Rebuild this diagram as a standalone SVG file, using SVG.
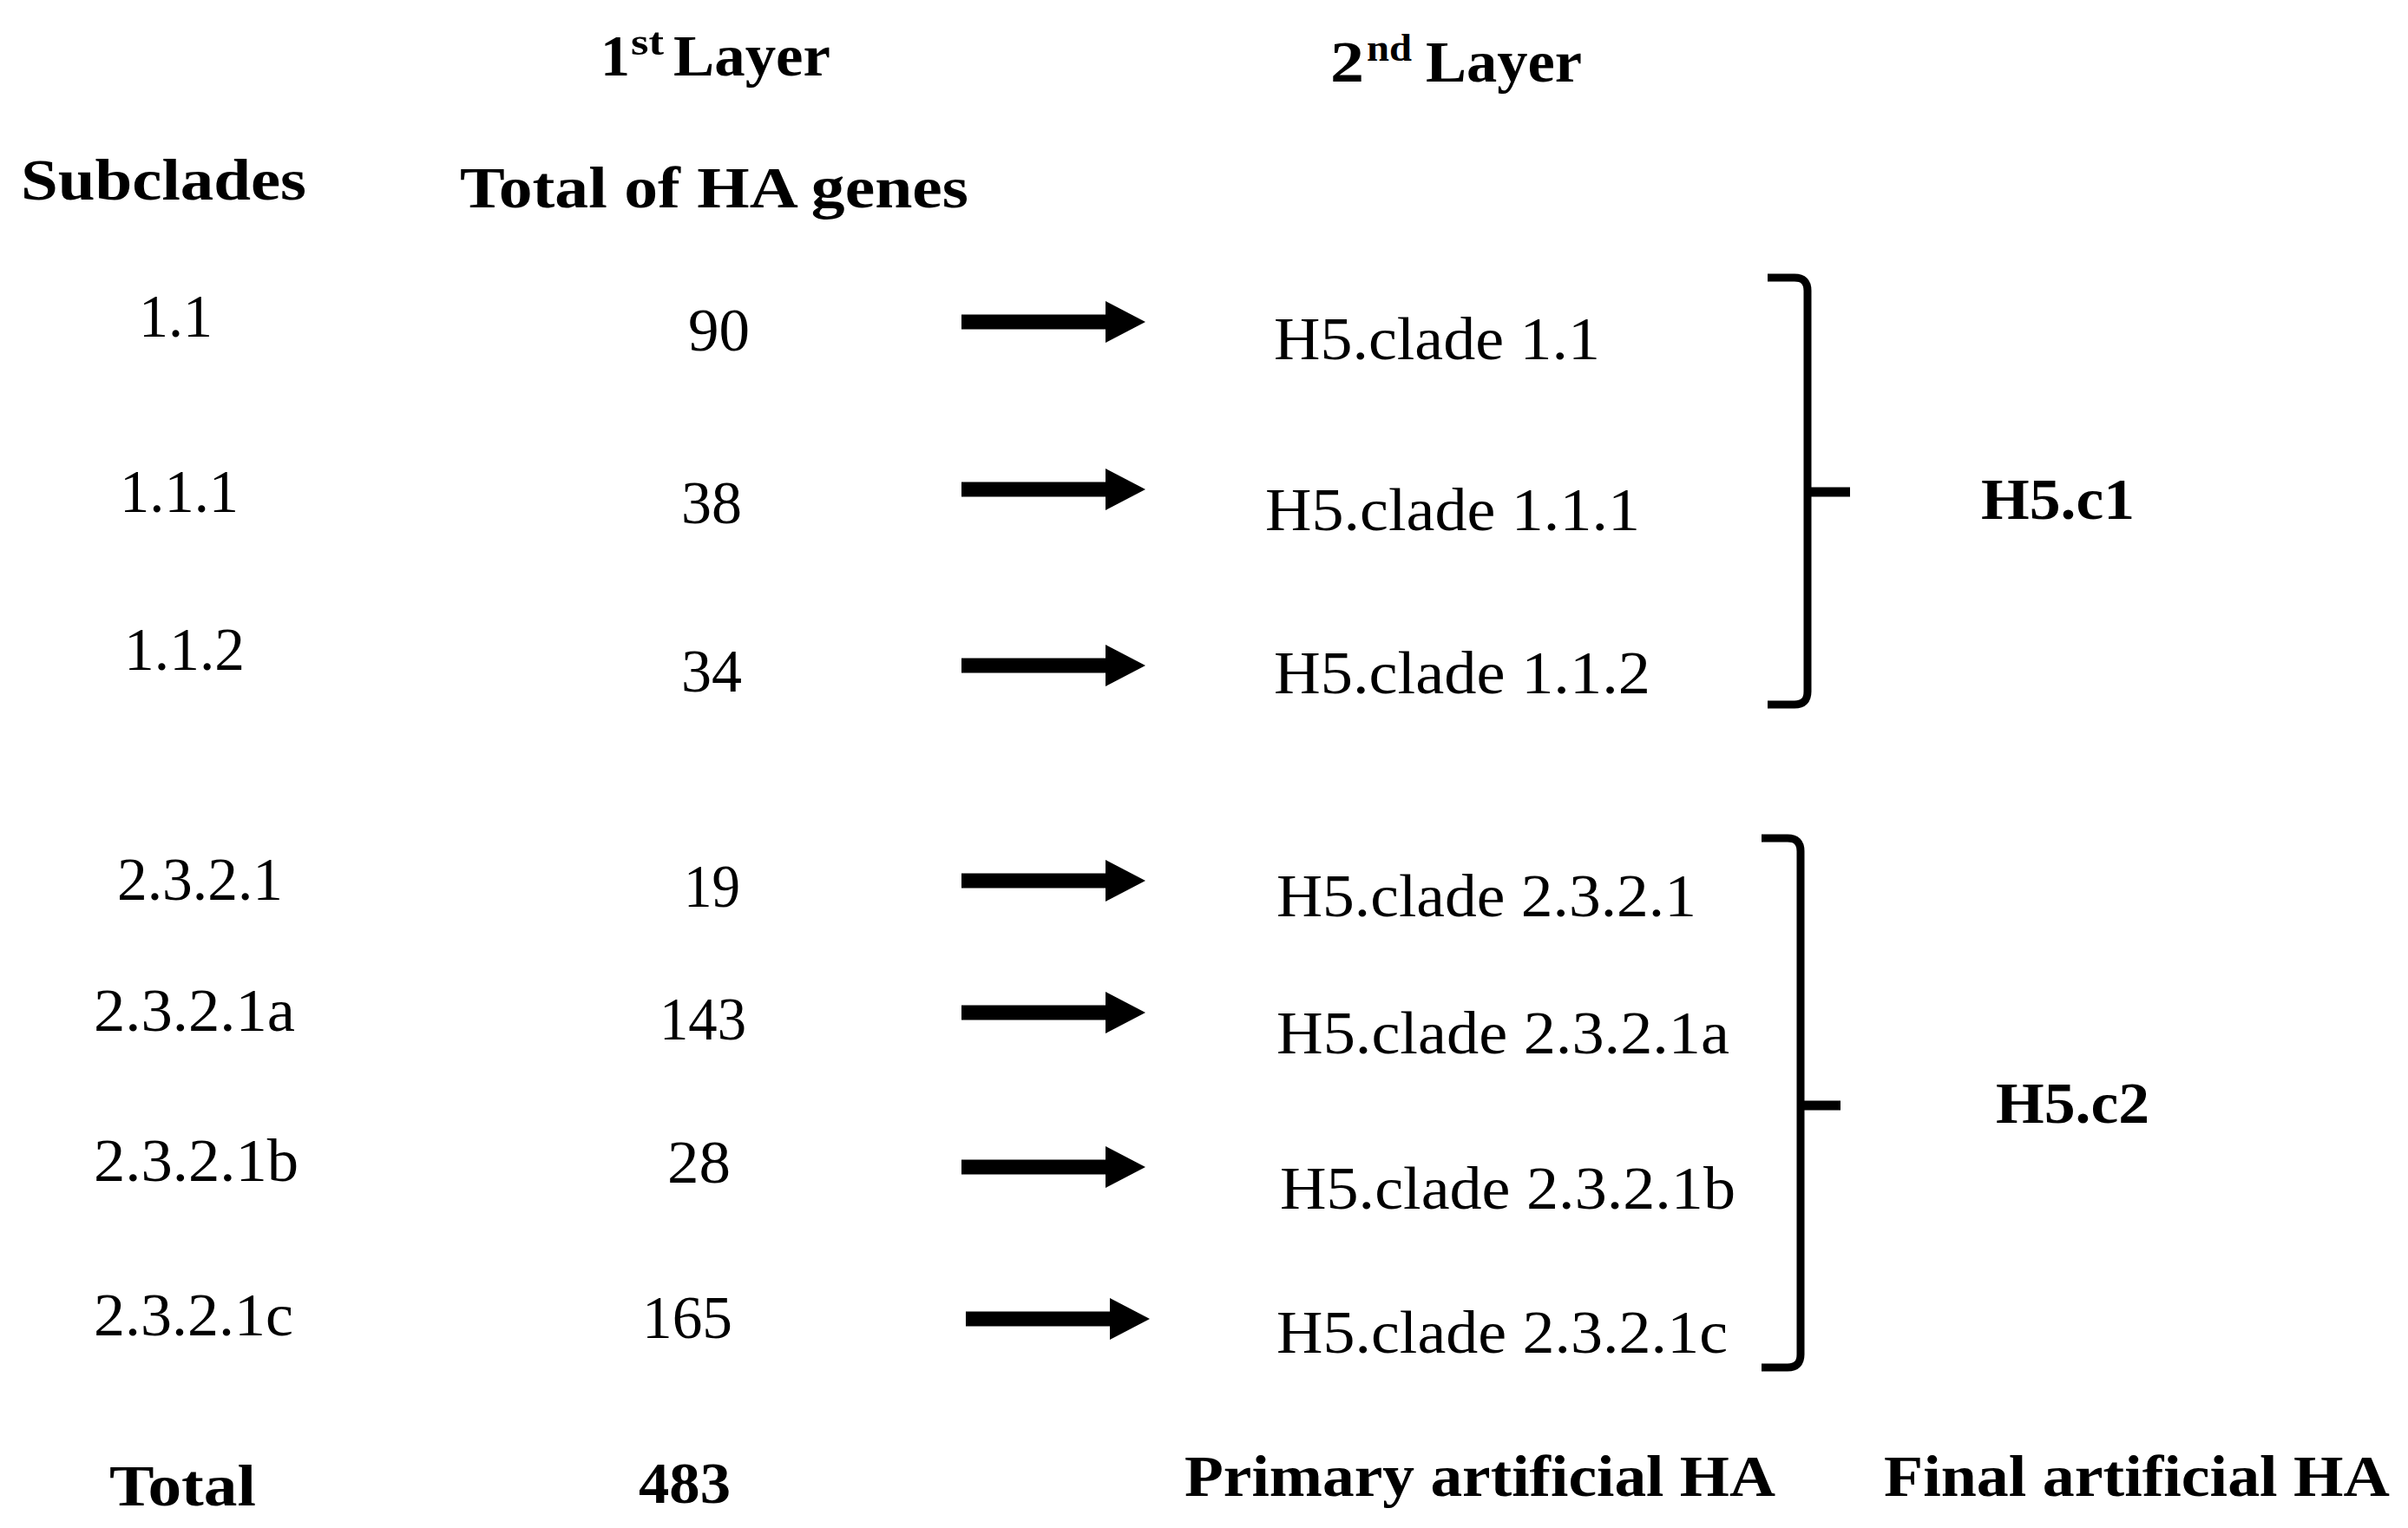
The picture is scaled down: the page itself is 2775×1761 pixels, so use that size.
<svg xmlns="http://www.w3.org/2000/svg" width="2775" height="1761" viewBox="0 0 2775 1761">
<style>
  text { font-family: "Liberation Serif", "Times New Roman", serif; fill: #000; }
  .r { font-size: 69px; }
  .b { font-size: 68px; font-weight: bold; }
  .sup { font-size: 44px; font-weight: bold; }
  .shaft { stroke: #000; stroke-width: 17; fill: none; }
  .brace { stroke: #000; stroke-width: 9; fill: none; stroke-linecap: butt; }
  .tick { stroke: #000; stroke-width: 11; fill: none; }
</style>
<defs>
  <marker id="head" viewBox="0 0 46 48" markerWidth="46" markerHeight="48" refX="2" refY="24" markerUnits="userSpaceOnUse" orient="auto">
    <path d="M0,0 L46,24 L0,48 Z" fill="#000"/>
  </marker>
</defs>
<rect x="0" y="0" width="2775" height="1761" fill="#fff"/>

<g id="header-layer1">
  <text class="b" x="692" y="87" textLength="34" lengthAdjust="spacingAndGlyphs">1</text>
  <text class="sup" x="727" y="63" textLength="38" lengthAdjust="spacingAndGlyphs">st</text>
  <text class="b" x="776" y="87" textLength="181" lengthAdjust="spacingAndGlyphs">Layer</text>
</g>
<g id="header-layer2">
  <text class="b" x="1533" y="94" textLength="39" lengthAdjust="spacingAndGlyphs">2</text>
  <text class="sup" x="1575" y="70" textLength="52" lengthAdjust="spacingAndGlyphs">nd</text>
  <text class="b" x="1643" y="94" textLength="180" lengthAdjust="spacingAndGlyphs">Layer</text>
</g>
<g id="header-subclades"><text class="b" x="24" y="230" textLength="329" lengthAdjust="spacingAndGlyphs">Subclades</text></g>
<g id="header-total-ha"><text class="b" x="530" y="239" textLength="586" lengthAdjust="spacingAndGlyphs">Total of HA genes</text></g>

<g id="sub-1-1"><text class="r" x="160" y="388" textLength="85" lengthAdjust="spacingAndGlyphs">1.1</text></g>
<g id="n-90"><text class="r" x="793" y="404" textLength="71" lengthAdjust="spacingAndGlyphs">90</text></g>
<g id="h5-1-1"><text class="r" x="1468" y="414" textLength="376" lengthAdjust="spacingAndGlyphs">H5.clade 1.1</text></g>

<g id="sub-1-1-1"><text class="r" x="138" y="590" textLength="137" lengthAdjust="spacingAndGlyphs">1.1.1</text></g>
<g id="n-38"><text class="r" x="785" y="603" textLength="70" lengthAdjust="spacingAndGlyphs">38</text></g>
<g id="h5-1-1-1"><text class="r" x="1458" y="611" textLength="432" lengthAdjust="spacingAndGlyphs">H5.clade 1.1.1</text></g>

<g id="sub-1-1-2"><text class="r" x="143" y="772" textLength="139" lengthAdjust="spacingAndGlyphs">1.1.2</text></g>
<g id="n-34"><text class="r" x="785" y="797" textLength="70" lengthAdjust="spacingAndGlyphs">34</text></g>
<g id="h5-1-1-2"><text class="r" x="1468" y="799" textLength="434" lengthAdjust="spacingAndGlyphs">H5.clade 1.1.2</text></g>

<g id="final-c1"><text class="b" x="2283" y="598" textLength="177" lengthAdjust="spacingAndGlyphs">H5.c1</text></g>

<g id="sub-2-3-2-1"><text class="r" x="135" y="1037" textLength="191" lengthAdjust="spacingAndGlyphs">2.3.2.1</text></g>
<g id="n-19"><text class="r" x="788" y="1045" textLength="65" lengthAdjust="spacingAndGlyphs">19</text></g>
<g id="h5-2-3-2-1"><text class="r" x="1471" y="1056" textLength="484" lengthAdjust="spacingAndGlyphs">H5.clade 2.3.2.1</text></g>

<g id="sub-2-3-2-1a"><text class="r" x="108" y="1188" textLength="232" lengthAdjust="spacingAndGlyphs">2.3.2.1a</text></g>
<g id="n-143"><text class="r" x="760" y="1198" textLength="100" lengthAdjust="spacingAndGlyphs">143</text></g>
<g id="h5-2-3-2-1a"><text class="r" x="1471" y="1214" textLength="522" lengthAdjust="spacingAndGlyphs">H5.clade 2.3.2.1a</text></g>

<g id="sub-2-3-2-1b"><text class="r" x="108" y="1361" textLength="236" lengthAdjust="spacingAndGlyphs">2.3.2.1b</text></g>
<g id="n-28"><text class="r" x="769" y="1363" textLength="73" lengthAdjust="spacingAndGlyphs">28</text></g>
<g id="h5-2-3-2-1b"><text class="r" x="1475" y="1393" textLength="525" lengthAdjust="spacingAndGlyphs">H5.clade 2.3.2.1b</text></g>

<g id="sub-2-3-2-1c"><text class="r" x="108" y="1539" textLength="230" lengthAdjust="spacingAndGlyphs">2.3.2.1c</text></g>
<g id="n-165"><text class="r" x="740" y="1542" textLength="104" lengthAdjust="spacingAndGlyphs">165</text></g>
<g id="h5-2-3-2-1c"><text class="r" x="1471" y="1559" textLength="520" lengthAdjust="spacingAndGlyphs">H5.clade 2.3.2.1c</text></g>

<g id="final-c2"><text class="b" x="2300" y="1294" textLength="177" lengthAdjust="spacingAndGlyphs">H5.c2</text></g>

<g id="footer-total"><text class="b" x="126" y="1735" textLength="169" lengthAdjust="spacingAndGlyphs">Total</text></g>
<g id="footer-483"><text class="b" x="736" y="1732" textLength="106" lengthAdjust="spacingAndGlyphs">483</text></g>
<g id="footer-primary"><text class="b" x="1365" y="1724" textLength="681" lengthAdjust="spacingAndGlyphs">Primary artificial HA</text></g>
<g id="footer-final"><text class="b" x="2171" y="1724" textLength="583" lengthAdjust="spacingAndGlyphs">Final artificial HA</text></g>

<g id="connectors">
  <line class="shaft" x1="1108" y1="371" x2="1276" y2="371" marker-end="url(#head)"/>
  <line class="shaft" x1="1108" y1="564" x2="1276" y2="564" marker-end="url(#head)"/>
  <line class="shaft" x1="1108" y1="767" x2="1276" y2="767" marker-end="url(#head)"/>
  <line class="shaft" x1="1108" y1="1015" x2="1276" y2="1015" marker-end="url(#head)"/>
  <line class="shaft" x1="1108" y1="1167" x2="1276" y2="1167" marker-end="url(#head)"/>
  <line class="shaft" x1="1108" y1="1345" x2="1276" y2="1345" marker-end="url(#head)"/>
  <line class="shaft" x1="1113" y1="1520" x2="1281" y2="1520" marker-end="url(#head)"/>

  <g id="brace-c1">
    <path class="brace" d="M2037,320 L2068,320 Q2083,320 2083,335 L2083,797 Q2083,812 2068,812 L2037,812"/>
    <line class="tick" x1="2080" y1="567" x2="2132" y2="567"/>
  </g>
  <g id="brace-c2">
    <path class="brace" d="M2030,966 L2060,966 Q2075,966 2075,981 L2075,1561 Q2075,1576 2060,1576 L2030,1576"/>
    <line class="tick" x1="2072" y1="1274" x2="2121" y2="1274"/>
  </g>
</g>
</svg>
